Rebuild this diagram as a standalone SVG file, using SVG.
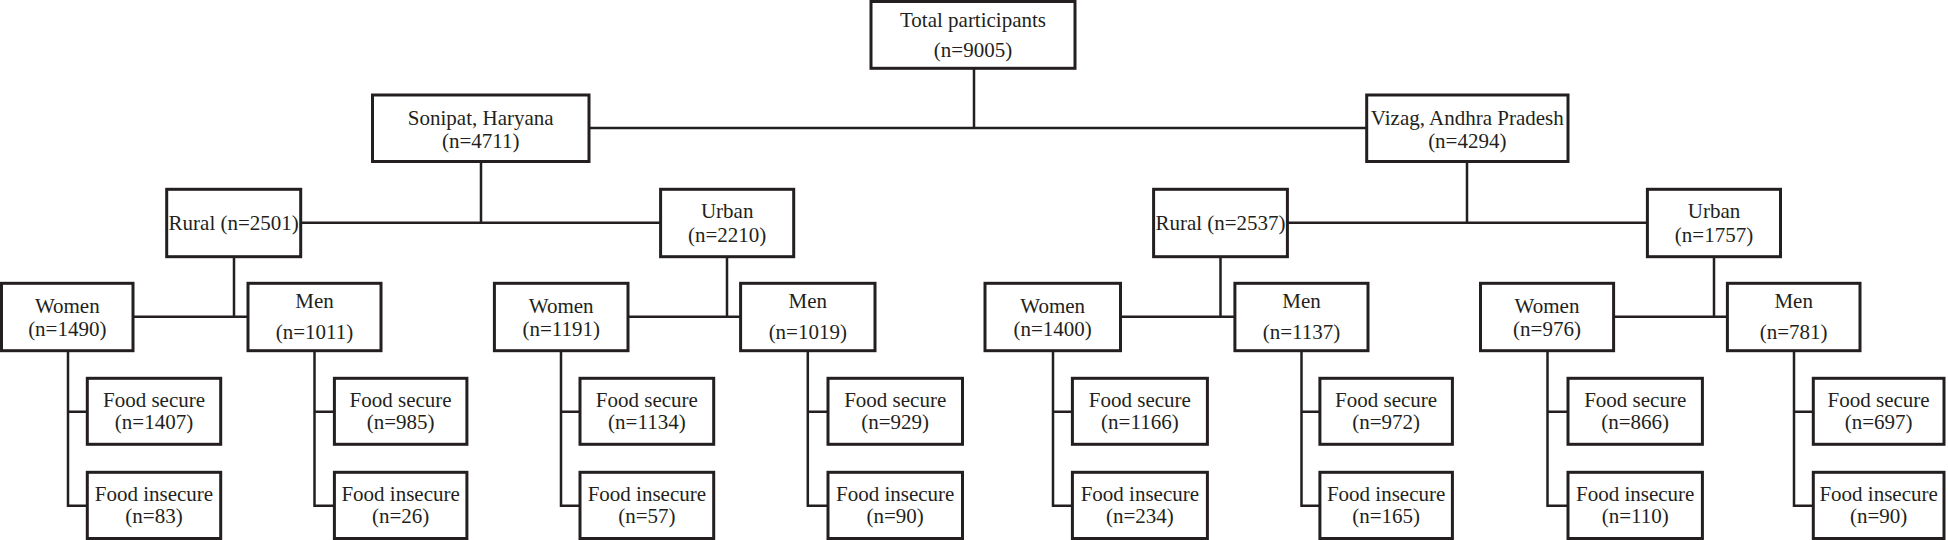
<svg xmlns="http://www.w3.org/2000/svg" width="1948" height="540" viewBox="0 0 1948 540">
<style>
.b{fill:#fff;stroke:#231f20;stroke-width:3}
.c{fill:none;stroke:#231f20;stroke-width:2.5}
text{font-family:"Liberation Serif","Times New Roman",serif;font-size:21px;fill:#231f20;text-anchor:middle}
</style>
<rect width="1948" height="540" fill="#fff"/>
<g id="connectors" class="c">
<path d="M974 68V128M589 128H1367"/>
<path d="M481 161V222.7M300.7 222.7H660.6"/>
<path d="M1467 161V222.7M1287.4 222.7H1647.4"/>
<path d="M234 256.7V316.7M133 316.7H248"/>
<path d="M727 256.7V316.7M628 316.7H740.6"/>
<path d="M1220.5 256.7V316.7M1120.5 316.7H1234.9"/>
<path d="M1714 256.7V316.7M1613.6 316.7H1727.4"/>
<path d="M68 350.7V505.7H87.3M68 411.7H87.3"/>
<path d="M314.5 350.7V505.7H334.4M314.5 411.7H334.4"/>
<path d="M561 350.7V505.7H580M561 411.7H580"/>
<path d="M807.8 350.7V505.7H828M807.8 411.7H828"/>
<path d="M1053 350.7V505.7H1072.4M1053 411.7H1072.4"/>
<path d="M1301.5 350.7V505.7H1319.9M1301.5 411.7H1319.9"/>
<path d="M1547.5 350.7V505.7H1568M1547.5 411.7H1568"/>
<path d="M1794 350.7V505.7H1813.3M1794 411.7H1813.3"/>
</g>
<g font-family="Liberation Serif, serif">
<g id="total"><rect class="b" x="871" y="1.5" width="204" height="66.8"/><text x="973" y="27">Total participants</text><text x="973" y="57">(n=9005)</text></g>
<g id="sonipat"><rect class="b" x="372.5" y="95" width="216.5" height="66.5"/><text x="480.7" y="125">Sonipat, Haryana</text><text x="480.7" y="147.5">(n=4711)</text></g>
<g id="vizag"><rect class="b" x="1366.7" y="95" width="201.3" height="66.5"/><text x="1467.3" y="125">Vizag, Andhra Pradesh</text><text x="1467.3" y="147.5">(n=4294)</text></g>
<g id="rural1"><rect class="b" x="166.7" y="189.3" width="134" height="67.4"/><text x="233.7" y="230">Rural (n=2501)</text></g>
<g id="urban1"><rect class="b" x="660.6" y="189.3" width="133.1" height="67.4"/><text x="727.2" y="218">Urban</text><text x="727.2" y="241.5">(n=2210)</text></g>
<g id="rural2"><rect class="b" x="1153.6" y="189.3" width="133.8" height="67.4"/><text x="1220.5" y="230">Rural (n=2537)</text></g>
<g id="urban2"><rect class="b" x="1647.4" y="189.3" width="133.1" height="67.4"/><text x="1714" y="218">Urban</text><text x="1714" y="241.5">(n=1757)</text></g>
<g id="women1"><rect class="b" x="1.5" y="283.3" width="131.5" height="67.4"/><text x="67.3" y="313">Women</text><text x="67.3" y="336">(n=1490)</text></g>
<g id="men1"><rect class="b" x="248" y="283.3" width="133" height="67.4"/><text x="314.5" y="308">Men</text><text x="314.5" y="339">(n=1011)</text></g>
<g id="women2"><rect class="b" x="494.4" y="283.3" width="133.6" height="67.4"/><text x="561.2" y="313">Women</text><text x="561.2" y="336">(n=1191)</text></g>
<g id="men2"><rect class="b" x="740.6" y="283.3" width="134.4" height="67.4"/><text x="807.8" y="308">Men</text><text x="807.8" y="339">(n=1019)</text></g>
<g id="women3"><rect class="b" x="985" y="283.3" width="135.5" height="67.4"/><text x="1052.7" y="313">Women</text><text x="1052.7" y="336">(n=1400)</text></g>
<g id="men3"><rect class="b" x="1234.9" y="283.3" width="133.1" height="67.4"/><text x="1301.5" y="308">Men</text><text x="1301.5" y="339">(n=1137)</text></g>
<g id="women4"><rect class="b" x="1480.5" y="283.3" width="133.1" height="67.4"/><text x="1547" y="313">Women</text><text x="1547" y="336">(n=976)</text></g>
<g id="men4"><rect class="b" x="1727.4" y="283.3" width="132.6" height="67.4"/><text x="1793.7" y="308">Men</text><text x="1793.7" y="339">(n=781)</text></g>
<g id="fs1"><rect class="b" x="87.3" y="378.3" width="133.4" height="66"/><text x="154" y="406.7">Food secure</text><text x="154" y="428.5">(n=1407)</text></g>
<g id="fi1"><rect class="b" x="87.3" y="472.3" width="133.4" height="66.2"/><text x="154" y="500.7">Food insecure</text><text x="154" y="523">(n=83)</text></g>
<g id="fs2"><rect class="b" x="334.4" y="378.3" width="132.5" height="66"/><text x="400.6" y="406.7">Food secure</text><text x="400.6" y="428.5">(n=985)</text></g>
<g id="fi2"><rect class="b" x="334.4" y="472.3" width="132.5" height="66.2"/><text x="400.6" y="500.7">Food insecure</text><text x="400.6" y="523">(n=26)</text></g>
<g id="fs3"><rect class="b" x="580" y="378.3" width="133.7" height="66"/><text x="646.9" y="406.7">Food secure</text><text x="646.9" y="428.5">(n=1134)</text></g>
<g id="fi3"><rect class="b" x="580" y="472.3" width="133.7" height="66.2"/><text x="646.9" y="500.7">Food insecure</text><text x="646.9" y="523">(n=57)</text></g>
<g id="fs4"><rect class="b" x="828" y="378.3" width="134.5" height="66"/><text x="895.2" y="406.7">Food secure</text><text x="895.2" y="428.5">(n=929)</text></g>
<g id="fi4"><rect class="b" x="828" y="472.3" width="134.5" height="66.2"/><text x="895.2" y="500.7">Food insecure</text><text x="895.2" y="523">(n=90)</text></g>
<g id="fs5"><rect class="b" x="1072.4" y="378.3" width="135" height="66"/><text x="1139.9" y="406.7">Food secure</text><text x="1139.9" y="428.5">(n=1166)</text></g>
<g id="fi5"><rect class="b" x="1072.4" y="472.3" width="135" height="66.2"/><text x="1139.9" y="500.7">Food insecure</text><text x="1139.9" y="523">(n=234)</text></g>
<g id="fs6"><rect class="b" x="1319.9" y="378.3" width="132.5" height="66"/><text x="1386.1" y="406.7">Food secure</text><text x="1386.1" y="428.5">(n=972)</text></g>
<g id="fi6"><rect class="b" x="1319.9" y="472.3" width="132.5" height="66.2"/><text x="1386.1" y="500.7">Food insecure</text><text x="1386.1" y="523">(n=165)</text></g>
<g id="fs7"><rect class="b" x="1568" y="378.3" width="134.4" height="66"/><text x="1635.2" y="406.7">Food secure</text><text x="1635.2" y="428.5">(n=866)</text></g>
<g id="fi7"><rect class="b" x="1568" y="472.3" width="134.4" height="66.2"/><text x="1635.2" y="500.7">Food insecure</text><text x="1635.2" y="523">(n=110)</text></g>
<g id="fs8"><rect class="b" x="1813.3" y="378.3" width="130.7" height="66"/><text x="1878.6" y="406.7">Food secure</text><text x="1878.6" y="428.5">(n=697)</text></g>
<g id="fi8"><rect class="b" x="1813.3" y="472.3" width="130.7" height="66.2"/><text x="1878.6" y="500.7">Food insecure</text><text x="1878.6" y="523">(n=90)</text></g>
</g>
</svg>
